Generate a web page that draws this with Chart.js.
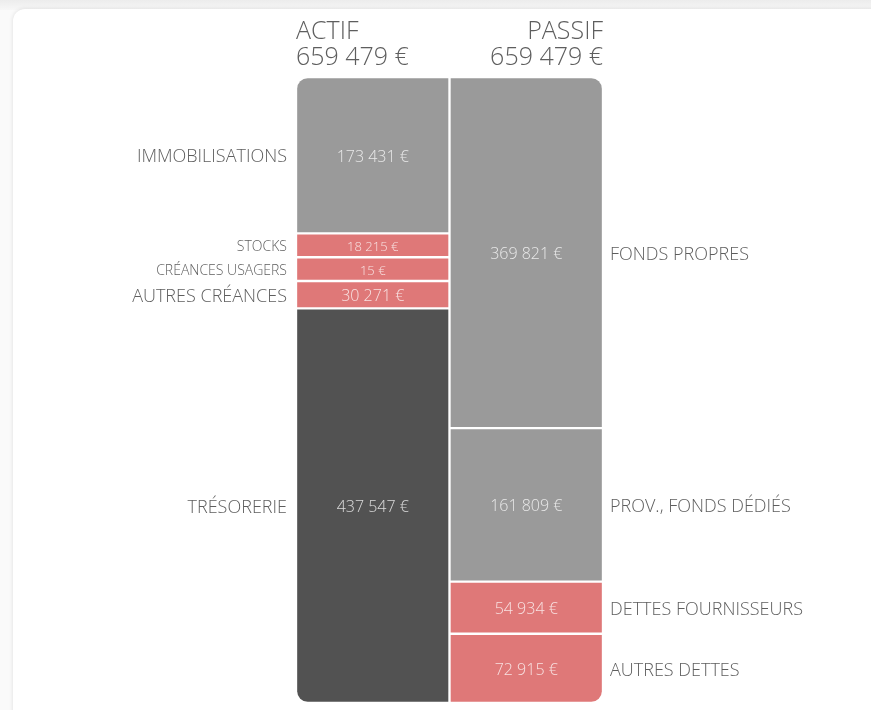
<!DOCTYPE html>
<html>
<head>
<meta charset="utf-8">
<script src="https://cdn.jsdelivr.net/npm/chart.js@4.4.1/dist/chart.umd.min.js"></script>
<style>
  html, body { margin: 0; padding: 0; background: #fafafa; }
  body { width: 871px; height: 710px; overflow: hidden; position: relative; }
  .strip { position: absolute; left: 0; top: 0; width: 871px; height: 10px;
           background: linear-gradient(#ececec, #f7f7f7); }
  .card { position: absolute; left: 13px; top: 9px; width: 900px; height: 740px;
          background: #fff; border-radius: 12px; box-shadow: 0 0 4px rgba(0,0,0,0.12); }
  #bilan { position: absolute; left: 0; top: 0; }
</style>
</head>
<body>
<div class="strip"></div>
<div class="card"></div>
<canvas id="bilan" width="871" height="710"></canvas>
<script>
const categories = ['ACTIF', 'PASSIF'];
const totals = [659479, 659479];

const actifLabels = ['IMMOBILISATIONS', 'STOCKS', 'CRÉANCES USAGERS', 'AUTRES CRÉANCES', 'TRÉSORERIE'];
const actifValues = [173431, 18215, 15, 30271, 437547];

const passifLabels = ['FONDS PROPRES', 'PROV., FONDS DÉDIÉS', 'DETTES FOURNISSEURS', 'AUTRES DETTES'];
const passifValues = [369821, 161809, 54934, 72915];

// styles
const GREY = '#9a9a9a', DARK = '#525252', PINK = '#df7878';
const actifColors = [GREY, PINK, PINK, PINK, DARK];
const passifColors = [GREY, GREY, PINK, PINK];
const actifLabelSize = [18, 14, 14, 18, 18];
const actifValueSize = [16, 13, 13, 16, 16];
const passifLabelSize = [18, 18, 18, 18];
const passifValueSize = [16, 16, 16, 16];

// tiny segments get a minimum height so their label stays readable
const minShare = 0.04;
function segmentSizes(values, total) {
  const floor = total * minShare;
  const raised = values.map(v => Math.max(v, floor));
  const sum = raised.reduce((a, b) => a + b, 0);
  return raised.map(v => v * total / sum);
}

function euro(v) {
  return String(v).replace(/\B(?=(\d{3})+(?!\d))/g, ' ') + ' €';
}

const FONT = "'Open Sans', 'Noto Sans', sans-serif";
const R = 12;

const datasets = [];
segmentSizes(actifValues, totals[0]).forEach((s, i) => {
  datasets.push({
    label: actifLabels[i],
    data: [s, null],
    realValue: actifValues[i],
    side: 0,
    labelSize: actifLabelSize[i],
    valueSize: actifValueSize[i],
    backgroundColor: actifColors[i],
    borderRadius: {
      topLeft: i === 0 ? R : 0, topRight: 0,
      bottomLeft: i === actifValues.length - 1 ? R : 0, bottomRight: 0
    }
  });
});
segmentSizes(passifValues, totals[1]).forEach((s, i) => {
  datasets.push({
    label: passifLabels[i],
    data: [null, s],
    realValue: passifValues[i],
    side: 1,
    labelSize: passifLabelSize[i],
    valueSize: passifValueSize[i],
    backgroundColor: passifColors[i],
    borderRadius: {
      topLeft: 0, topRight: i === 0 ? R : 0,
      bottomLeft: 0, bottomRight: i === passifValues.length - 1 ? R : 0
    }
  });
});

const bilanText = {
  id: 'bilanText',
  afterDatasetsDraw(chart) {
    const ctx = chart.ctx;
    ctx.save();
    chart.data.datasets.forEach((ds, di) => {
      const bar = chart.getDatasetMeta(di).data[ds.side];
      if (!bar) return;
      const p = bar.getProps(['x', 'y', 'base', 'width'], true);
      const cy = (p.y + p.base) / 2 + 2;
      ctx.textBaseline = 'middle';
      ctx.fillStyle = 'rgba(255,255,255,0.78)';
      ctx.textAlign = 'center';
      ctx.font = `300 ${ds.valueSize}px ${FONT}`;
      ctx.fillText(euro(ds.realValue), p.x, cy);
      ctx.fillStyle = '#5e5e5e';
      ctx.font = `300 ${ds.labelSize}px ${FONT}`;
      if (ds.side === 0) {
        ctx.textAlign = 'right';
        ctx.fillText(ds.label, p.x - p.width / 2 - 9, cy);
      } else {
        ctx.textAlign = 'left';
        ctx.fillText(ds.label, p.x + p.width / 2 + 7, cy);
      }
    });
    // column headers
    const xs = chart.scales.x;
    const half = (xs.getPixelForValue(1) - xs.getPixelForValue(0)) / 2;
    ctx.fillStyle = '#5e5e5e';
    ctx.font = `300 25px ${FONT}`;
    ctx.textBaseline = 'alphabetic';
    ctx.textAlign = 'left';
    ctx.fillText(categories[0], xs.getPixelForValue(0) - half, 39);
    ctx.fillText(euro(totals[0]), xs.getPixelForValue(0) - half, 65);
    ctx.textAlign = 'right';
    ctx.fillText(categories[1], xs.getPixelForValue(1) + half, 39);
    ctx.fillText(euro(totals[1]), xs.getPixelForValue(1) + half, 65);
    ctx.restore();
  }
};

new Chart(document.getElementById('bilan'), {
  type: 'bar',
  data: { labels: categories, datasets: datasets },
  options: {
    responsive: false,
    animation: false,
    layout: { padding: { left: 296, right: 268, top: 77, bottom: 7 } },
    datasets: {
      bar: {
        categoryPercentage: 1,
        barPercentage: 1,
        borderColor: '#ffffff',
        borderWidth: 1.5,
        borderSkipped: false,
        skipNull: true
      }
    },
    plugins: {
      legend: { display: false },
      tooltip: { enabled: false },
      title: { display: false }
    },
    scales: {
      x: { stacked: true, display: false },
      y: { stacked: true, display: false, reverse: true, min: 0, max: totals[0] }
    }
  },
  plugins: [bilanText]
});
</script>
</body>
</html>
